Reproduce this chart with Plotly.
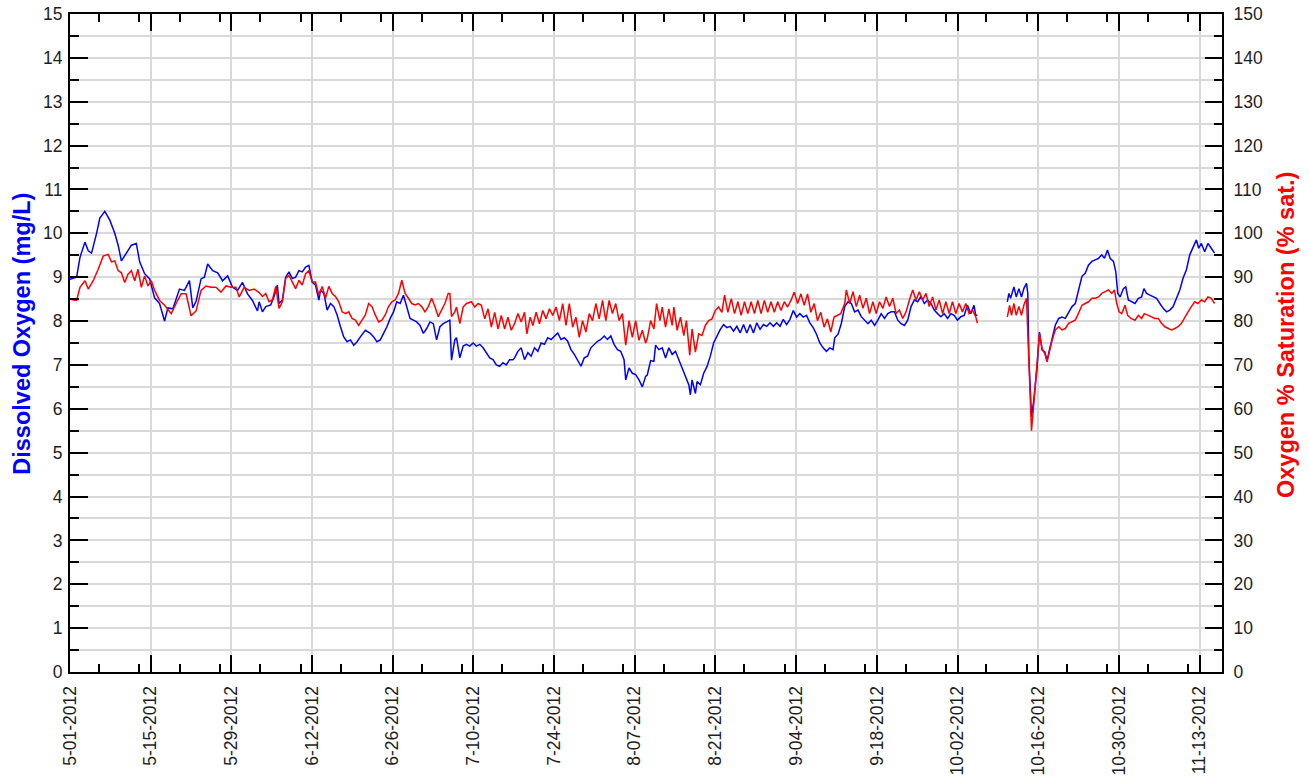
import pandas as pd
import plotly.graph_objects as go

START = pd.Timestamp("2012-05-01")
END = pd.Timestamp("2012-11-16 21:30")

# Dissolved oxygen (mg/L): sample time in days since 5-01-2012, and reading
DO_DAY = [
    0.0, 1.15, 1.73, 2.59, 3.17, 3.74, 4.61, 5.18, 6.04, 6.91,
    7.77, 8.35, 8.92, 9.79, 10.65, 11.51, 12.09, 12.95, 13.82, 14.68,
    15.54, 16.41, 16.98, 17.85, 19.0, 19.86, 20.73, 21.3, 21.88, 22.74,
    23.32, 23.89, 24.76, 25.62, 26.48, 27.35, 28.21, 29.07, 29.94, 30.8,
    31.66, 32.53, 32.82, 33.39, 33.97, 34.83, 35.41, 35.98, 36.27, 36.85,
    37.42, 38.0, 38.58, 39.15, 39.73, 40.3, 40.88, 41.45, 42.03, 42.6,
    43.18, 43.47, 44.05, 44.62, 45.2, 45.78, 46.35, 46.93, 47.5, 48.08,
    48.66, 49.23, 49.81, 50.38, 51.25, 52.11, 52.69, 53.26, 53.84, 54.41,
    54.99, 55.56, 56.14, 56.71, 57.29, 57.86, 58.44, 59.01, 59.59, 60.16,
    60.74, 61.31, 61.89, 62.46, 63.04, 63.61, 64.19, 64.76, 65.34, 65.91,
    66.2, 66.77, 67.07, 67.64, 68.22, 68.8, 69.37, 69.95, 70.52, 71.1,
    71.68, 72.25, 72.83, 73.4, 73.98, 74.55, 75.13, 75.7, 76.28, 76.86,
    77.14, 77.72, 78.29, 78.87, 79.45, 80.02, 80.6, 81.18, 81.75,
    82.33, 82.9, 83.48, 84.05, 84.63, 85.2, 85.78, 86.35, 86.93, 87.51,
    88.08, 88.66, 89.23, 89.81, 90.38, 90.96, 91.53, 92.11, 92.69, 93.26,
    93.84, 94.41, 94.99, 95.56, 96.14, 96.43, 97.0, 97.58, 98.15, 98.73,
    99.31, 99.88, 100.17, 100.75, 101.32, 101.61, 102.19, 102.76, 103.34, 103.91,
    104.49, 105.06, 105.64, 106.21, 106.79, 107.37, 107.65, 107.94, 108.52, 108.81,
    109.38, 109.96, 110.53, 111.11, 111.68, 112.26, 112.84, 113.41, 113.99, 114.56,
    115.14, 115.71, 116.29, 116.87, 117.44, 118.02, 118.59, 119.17, 119.74, 120.32,
    120.9, 121.47, 122.05, 122.62, 123.2, 123.77, 124.35, 124.93, 125.5, 126.08,
    126.65, 127.23, 127.8, 128.38, 128.96, 129.53, 130.11, 130.68, 131.26, 131.83,
    132.41, 132.7, 133.27, 133.85, 134.43, 135.0, 135.58, 136.15, 136.73, 137.3,
    137.88, 138.46, 139.03, 139.61, 140.18, 140.76, 141.33, 141.91, 142.48, 143.06,
    143.64, 144.21, 144.79, 145.36, 145.94, 146.51, 147.09, 147.67, 148.24, 148.82,
    149.39, 149.97, 150.54, 151.12, 151.69, 152.27, 152.85, 153.42, 154.0, 154.57,
    155.15, 155.72, 156.3, 156.87, 157.16, 157.45, 160.0, 162.64, 162.92, 163.21,
    163.79, 164.19, 164.65, 165.11, 165.51, 165.97, 166.2, 166.38, 166.66, 166.84,
    167.24, 167.82, 168.22, 168.68, 169.14, 169.54, 169.95, 170.41, 170.98, 171.56,
    172.13, 172.71, 173.29, 173.86, 174.44, 175.01, 175.59, 176.16, 176.74, 177.32,
    177.89, 178.47, 179.04, 179.5, 180.02, 180.48, 181.06, 181.46, 181.81, 182.21,
    182.79, 183.19, 183.65, 184.22, 184.8, 185.38, 185.95, 186.35, 186.81, 187.39,
    187.97, 188.54, 189.12, 189.69, 190.27, 190.84, 191.42, 191.99, 192.57, 193.15,
    193.72, 194.3, 194.87, 195.45, 195.85, 196.31, 196.89, 197.46, 198.04, 198.61,
]
DO_MGL = [
    8.95, 9.0, 9.45, 9.8, 9.6, 9.55, 10.0, 10.35, 10.5, 10.3,
    10.0, 9.73, 9.37, 9.55, 9.73, 9.77, 9.35, 9.08, 8.96, 8.53,
    8.4, 8.0, 8.3, 8.28, 8.73, 8.7, 8.92, 8.3, 8.45, 8.96,
    9.0, 9.3, 9.15, 9.1, 8.92, 9.03, 8.77, 8.7, 8.88, 8.62,
    8.47, 8.23, 8.44, 8.21, 8.33, 8.37, 8.56, 8.82, 8.4, 8.48,
    9.0, 9.12, 8.97, 9.0, 9.15, 9.12, 9.23, 9.27, 8.89, 8.82,
    8.48, 8.71, 8.63, 8.25, 8.4, 8.33, 8.14, 7.87, 7.64, 7.53,
    7.57, 7.45, 7.53, 7.64, 7.79, 7.72, 7.64, 7.53, 7.57, 7.72,
    7.87, 8.06, 8.21, 8.44, 8.4, 8.59, 8.33, 8.06, 8.02, 7.98,
    7.9, 7.72, 7.83, 7.98, 7.94, 7.57, 7.87, 7.94, 7.98, 8.02,
    7.11, 7.57, 7.62, 7.16, 7.43, 7.47, 7.43, 7.5, 7.43, 7.47,
    7.39, 7.28, 7.16, 7.12, 7.0, 6.97, 7.05, 7.0, 7.12, 7.12,
    7.16, 7.31, 7.39, 7.12, 7.28, 7.2, 7.39, 7.31, 7.5,
    7.47, 7.62, 7.58, 7.66, 7.73, 7.58, 7.62, 7.54, 7.35, 7.24,
    7.12, 6.97, 7.16, 7.2, 7.39, 7.47, 7.54, 7.58, 7.66, 7.58,
    7.66, 7.47, 7.35, 7.31, 7.12, 6.66, 6.93, 6.81, 6.78, 6.66,
    6.5, 6.74, 6.77, 7.1, 7.08, 7.45, 7.35, 7.39, 7.16, 7.39,
    7.24, 7.31, 7.12, 6.93, 6.74, 6.55, 6.32, 6.66, 6.35, 6.62,
    6.55, 6.81, 6.96, 7.2, 7.5, 7.66, 7.81, 7.92, 7.85, 7.88,
    7.77, 7.88, 7.73, 7.92, 7.73, 7.92, 7.73, 7.96, 7.81, 7.92,
    7.88, 7.96, 7.88, 7.96, 7.88, 8.04, 7.92, 8.04, 8.24, 8.09,
    8.17, 8.09, 8.13, 7.96, 7.85, 7.7, 7.5, 7.39, 7.31, 7.39,
    7.35, 7.62, 7.7, 7.95, 8.33, 8.44, 8.4, 8.21, 8.25, 8.1,
    8.02, 7.94, 8.02, 7.9, 8.02, 8.17, 8.06, 8.17, 8.21, 8.21,
    8.02, 7.94, 7.9, 8.02, 8.33, 8.48, 8.44, 8.56, 8.4, 8.48,
    8.4, 8.25, 8.17, 8.1, 8.17, 8.06, 8.17, 8.13, 8.02, 8.1,
    8.13, 8.36, 8.17, 8.36, 8.13, 8.13, None, 8.44, 8.63, 8.52,
    8.78, 8.55, 8.74, 8.55, 8.74, 8.86, 8.63, 7.19, 6.05, 5.82,
    6.2, 6.96, 7.75, 7.34, 7.3, 7.1, 7.34, 7.6, 7.91, 8.06,
    8.09, 8.06, 8.21, 8.33, 8.4, 8.71, 9.02, 9.09, 9.28, 9.36,
    9.39, 9.43, 9.51, 9.43, 9.62, 9.43, 9.36, 9.13, 8.63, 8.55,
    8.74, 8.78, 8.48, 8.44, 8.4, 8.52, 8.55, 8.74, 8.63, 8.59,
    8.55, 8.52, 8.4, 8.29, 8.21, 8.25, 8.33, 8.52, 8.71, 8.98,
    9.17, 9.51, 9.7, 9.85, 9.66, 9.77, 9.58, 9.77, 9.66, 9.55,
]

# Oxygen saturation (%): sample time in days since 5-01-2012, and reading
SAT_DAY = [
    0.0, 1.15, 1.73, 2.59, 3.17, 4.03, 4.89, 5.76, 6.62, 7.2,
    7.77, 8.35, 8.92, 9.5, 10.07, 10.65, 11.23, 11.8, 12.38, 12.95,
    13.53, 14.1, 14.68, 15.54, 16.41, 17.56, 18.42, 19.29, 20.15, 21.01,
    21.88, 22.74, 23.6, 24.47, 25.33, 26.2, 27.06, 27.92, 28.79, 29.36,
    30.22, 31.09, 31.95, 32.82, 33.39, 33.97, 34.54, 35.12, 35.7, 36.27,
    36.85, 37.42, 38.0, 38.58, 39.15, 39.73, 40.3, 40.88, 41.45, 42.03,
    42.6, 43.18, 43.76, 44.33, 44.91, 45.49, 46.06, 46.64, 47.22, 47.79,
    48.37, 48.94, 49.52, 50.09, 50.67, 51.25, 51.82, 52.4, 52.97, 53.55,
    54.12, 54.7, 55.27, 55.85, 56.42, 57.0, 57.57, 58.15, 58.72, 59.3,
    59.87, 60.45, 61.02, 61.6, 62.17, 62.75, 63.32, 63.9, 64.47, 65.05,
    65.62, 65.91, 66.2, 66.77, 67.07, 67.64, 68.22, 68.8, 69.66, 70.24,
    70.81, 71.39, 71.96, 72.54, 73.11, 73.69, 74.27, 74.84, 75.42, 75.99,
    76.57, 77.14, 77.72, 78.29, 78.87, 79.27, 79.85, 80.31, 80.89,
    81.46, 82.04, 82.61, 83.19, 83.77, 84.34, 84.92, 85.49, 86.07, 86.64,
    87.22, 87.79, 88.37, 88.94, 89.52, 90.1, 90.67, 91.25, 91.82, 92.4,
    92.97, 93.55, 94.12, 94.7, 95.28, 95.85, 96.43, 97.0, 97.58, 98.15,
    98.73, 99.31, 99.88, 100.17, 100.75, 101.32, 101.78, 102.36, 102.76, 103.34,
    103.91, 104.49, 104.78, 105.35, 105.93, 106.5, 106.96, 107.54, 107.94, 108.52,
    109.09, 109.67, 110.24, 110.82, 111.4, 111.97, 112.55, 113.12, 113.58, 114.16,
    114.74, 115.31, 115.89, 116.46, 117.04, 117.61, 118.19, 118.77, 119.34, 119.92,
    120.49, 121.07, 121.64, 122.22, 122.8, 123.37, 123.95, 124.52, 125.1, 125.67,
    126.25, 126.83, 127.4, 127.98, 128.55, 129.13, 129.7, 130.28, 130.85, 131.43,
    132.01, 132.58, 133.16, 133.73, 134.43, 134.71, 135.29, 135.87, 136.44, 137.02,
    137.59, 138.17, 138.74, 139.32, 139.89, 140.47, 141.05, 141.62, 142.2, 142.77,
    143.35, 143.92, 144.5, 145.07, 145.65, 146.23, 146.8, 147.38, 147.95, 148.53,
    149.1, 149.68, 150.26, 150.83, 151.41, 151.98, 152.56, 153.13, 153.71, 154.28,
    154.86, 155.44, 156.01, 156.59, 157.16, 157.45, 160.0, 162.64, 163.04, 163.38,
    163.79, 164.19, 164.65, 165.11, 165.51, 165.97, 166.38, 166.66, 166.84, 167.24,
    167.82, 168.22, 168.68, 169.14, 169.54, 169.95, 170.41, 170.98, 171.56, 172.13,
    172.71, 173.29, 173.86, 174.44, 175.01, 175.59, 176.16, 176.74, 177.32, 177.89,
    178.47, 179.04, 179.62, 180.19, 180.77, 181.23, 181.63, 182.04, 182.5, 183.07,
    183.53, 184.11, 184.8, 185.38, 185.95, 186.41, 187.1, 187.68, 188.25, 188.83,
    189.4, 189.98, 190.56, 191.13, 191.71, 192.28, 192.86, 193.43, 194.01, 194.58,
    195.16, 195.74, 196.31, 196.89, 197.46, 198.04, 198.61,
]
SAT_PCT = [
    85.0, 84.7, 87.7, 89.2, 87.3, 89.2, 91.8, 94.8, 95.2, 93.5,
    93.7, 91.5, 91.0, 88.8, 90.7, 91.5, 89.2, 91.8, 87.7, 90.3,
    88.0, 89.2, 87.0, 84.7, 83.6, 81.7, 84.0, 86.2, 86.2, 81.2,
    82.3, 87.0, 88.0, 87.7, 87.7, 86.6, 88.0, 87.7, 87.7, 85.5,
    87.7, 87.0, 87.3, 86.5, 85.6, 86.3, 84.4, 84.8, 87.9, 82.9,
    84.4, 89.7, 90.4, 88.9, 87.4, 89.3, 88.2, 90.8, 91.5, 88.9,
    88.9, 85.9, 87.9, 85.2, 87.9, 86.3, 85.6, 84.4, 82.1, 81.7,
    82.1, 80.6, 80.2, 79.0, 80.2, 81.4, 84.0, 83.3, 81.4, 79.8,
    80.2, 81.4, 83.3, 84.4, 84.8, 86.3, 89.3, 86.3, 85.2, 84.0,
    83.7, 84.0, 83.3, 82.1, 83.3, 85.2, 83.3, 81.0, 82.5, 84.0,
    86.3, 86.3, 81.0, 82.1, 83.2, 79.4, 83.2, 84.0, 84.4, 83.2,
    84.0, 83.6, 80.5, 82.8, 78.6, 82.0, 78.2, 81.3, 78.2, 80.9,
    77.9, 79.4, 81.7, 79.8, 82.0, 77.1, 80.9, 79.0, 82.0,
    79.4, 82.4, 80.5, 82.8, 81.3, 83.2, 80.1, 84.0, 79.0, 84.0,
    78.6, 80.9, 76.3, 80.1, 77.5, 81.7, 80.1, 84.0, 80.5, 84.7,
    80.1, 84.7, 81.7, 84.0, 80.1, 81.7, 74.5, 80.1, 76.3, 80.1,
    75.6, 77.9, 75.0, 76.0, 80.1, 78.2, 84.0, 80.1, 83.2, 78.6,
    82.8, 79.0, 83.2, 77.9, 80.9, 76.7, 80.1, 72.2, 78.2, 72.9,
    77.1, 76.7, 79.0, 80.1, 80.5, 82.4, 83.2, 82.0, 85.9, 82.0,
    85.1, 81.7, 84.4, 81.3, 84.4, 81.7, 84.4, 81.7, 84.7, 81.7,
    84.7, 82.0, 84.4, 82.0, 84.4, 82.4, 84.4, 83.2, 84.7, 86.6,
    84.0, 86.2, 83.6, 86.2, 82.0, 84.0, 80.1, 82.0, 78.6, 80.5,
    77.5, 80.9, 81.3, 81.7, 84.0, 87.1, 84.0, 86.7, 83.3, 85.9,
    82.9, 85.2, 81.7, 84.4, 81.7, 84.4, 82.9, 85.5, 83.3, 85.2,
    81.7, 82.5, 80.6, 82.1, 84.8, 87.1, 84.8, 86.7, 84.8, 86.3,
    83.3, 85.5, 82.5, 84.8, 81.7, 84.4, 81.7, 84.4, 81.7, 84.0,
    82.1, 84.0, 81.7, 82.5, 81.0, 79.5, None, 80.9, 83.6, 81.3,
    84.0, 81.3, 83.3, 81.3, 83.6, 85.2, 69.6, 58.2, 55.0, 61.1,
    69.6, 77.2, 73.7, 72.6, 70.7, 73.4, 75.6, 78.0, 78.7, 78.0,
    78.3, 79.5, 79.9, 80.2, 81.8, 83.6, 84.0, 84.4, 85.2, 85.2,
    85.5, 86.3, 86.7, 87.1, 86.3, 87.1, 84.0, 82.1, 81.7, 83.6,
    81.3, 80.6, 80.2, 81.3, 80.6, 81.7, 81.3, 80.9, 80.6, 80.6,
    79.5, 78.7, 78.3, 78.0, 78.3, 78.7, 79.5, 80.9, 82.1, 83.3,
    84.4, 84.0, 84.8, 84.4, 85.5, 85.2, 84.0,
]

assert len(DO_DAY) == len(DO_MGL)
assert len(SAT_DAY) == len(SAT_PCT)


def to_time(days):
    return START + pd.to_timedelta(days, unit="D")


FONT = "Liberation Sans, Arial, Helvetica, sans-serif"
GRID = "#d9d9d9"
TICKFONT = dict(family=FONT, size=17.5, color="#1e1e1e")
TITLE_SIZE = 23.5

fig = go.Figure()

fig.add_trace(go.Scatter(
    x=to_time(SAT_DAY), y=SAT_PCT, yaxis="y2", mode="lines",
    line=dict(color="#ff0000", width=1.5), connectgaps=False,
    name="Oxygen % Saturation", hoverinfo="skip",
))
fig.add_trace(go.Scatter(
    x=to_time(DO_DAY), y=DO_MGL, yaxis="y", mode="lines",
    line=dict(color="#0000ff", width=1.5), connectgaps=False,
    name="Dissolved Oxygen", hoverinfo="skip",
))

fig.update_layout(
    width=1309, height=780,
    margin=dict(l=70, r=87, t=14, b=108, pad=0, autoexpand=False),
    paper_bgcolor="white", plot_bgcolor="white",
    showlegend=False,
    font=dict(family=FONT),
    xaxis=dict(
        type="date", automargin=False,
        range=[START, END],
        tick0=START, dtick=14 * 86400000,
        tickformat="%-m-%d-%Y", tickangle=-90,
        tickfont=TICKFONT,
        ticks="inside", ticklen=17, tickwidth=2, tickcolor="black",
        showline=True, linecolor="black", linewidth=2, mirror="ticks",
        showgrid=True, gridcolor=GRID, gridwidth=2, zeroline=False,
        minor=dict(dtick=7 * 86400000, ticks="inside", ticklen=8,
                   tickwidth=2, tickcolor="black", showgrid=False),
        ticklabelstandoff=5,
    ),
    yaxis=dict(
        range=[0, 15], dtick=1, tick0=0, automargin=False,
        tickfont=TICKFONT,
        ticks="inside", ticklen=18, tickwidth=2, tickcolor="black",
        showline=True, linecolor="black", linewidth=2,
        showgrid=True, gridcolor=GRID, gridwidth=2, zeroline=False,
        minor=dict(dtick=0.5, ticks="inside", ticklen=9, tickwidth=2,
                   tickcolor="black", showgrid=True, gridcolor=GRID, gridwidth=2),
        ticklabelstandoff=2,
    ),
    yaxis2=dict(
        overlaying="y", side="right", automargin=False,
        range=[0, 150], dtick=10, tick0=0,
        tickfont=TICKFONT,
        ticks="inside", ticklen=17, tickwidth=2, tickcolor="black",
        showline=True, linecolor="black", linewidth=2,
        showgrid=False, zeroline=False,
        minor=dict(dtick=5, ticks="inside", ticklen=8, tickwidth=2,
                   tickcolor="black", showgrid=False),
        ticklabelstandoff=6,
    ),
    annotations=[
        dict(text="Dissolved Oxygen (mg/L)", textangle=-90,
             xref="paper", yref="paper", x=-0.0419, y=0.5137,
             xanchor="center", yanchor="middle", showarrow=False,
             font=dict(family=FONT, size=TITLE_SIZE, color="#0000ff", weight="bold")),
        dict(text="Oxygen % Saturation (% sat.)", textangle=-90,
             xref="paper", yref="paper", x=1.0556, y=0.5122,
             xanchor="center", yanchor="middle", showarrow=False,
             font=dict(family=FONT, size=TITLE_SIZE, color="#ff0000", weight="bold")),
    ],
)

fig.write_html("out.html")
